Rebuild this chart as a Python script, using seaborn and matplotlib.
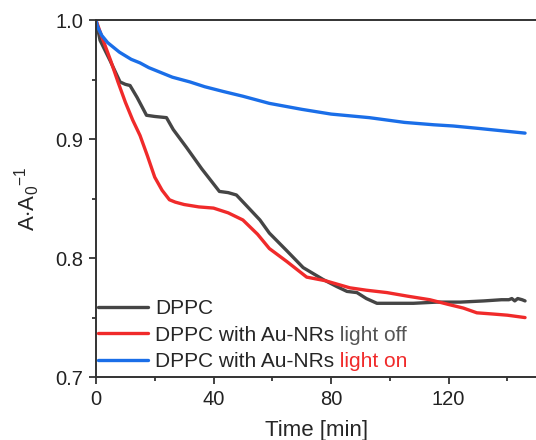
import numpy as np
import pandas as pd
import matplotlib
matplotlib.use("Agg")
import matplotlib.pyplot as plt
import seaborn as sns
from matplotlib.ticker import MultipleLocator, FormatStrFormatter

sns.set_theme(style="ticks")
plt.rcParams["font.family"] = ["Liberation Sans", "DejaVu Sans"]
plt.rcParams["mathtext.fontset"] = "custom"
plt.rcParams["mathtext.rm"] = "Liberation Sans"
plt.rcParams["mathtext.it"] = "Liberation Sans"

# DPPC monolayer, relative area vs. time
t_dppc = [0, 1.4, 3, 4.8, 8.2, 10, 11.6, 14, 17.2, 20, 24, 26.3, 30.8, 36, 42, 45,
          47.8, 52, 55.8, 59, 65, 70.5, 77.3, 82, 85.4, 88.8, 92, 95.6, 100,
          108, 116, 124, 132, 138, 140.5, 141.5, 142.5, 143.5, 145, 146]
a_dppc = [1.0, 0.983, 0.975, 0.966, 0.948, 0.946, 0.945, 0.935, 0.920, 0.919,
          0.918, 0.908, 0.893, 0.875, 0.856, 0.855, 0.853, 0.842, 0.832, 0.821,
          0.806, 0.792, 0.782, 0.776, 0.772, 0.771, 0.766, 0.762, 0.762, 0.762,
          0.763, 0.763, 0.764, 0.765, 0.765, 0.766, 0.764, 0.766, 0.765, 0.764]

# DPPC with Au-NRs, light off
t_off = [0, 2, 5, 7.5, 10, 12.5, 15, 17.5, 20, 22.5, 25, 27, 30, 35, 40, 45, 50,
         55, 59, 65, 71.7, 78, 86.4, 92, 99, 106, 113.6, 120, 125, 129.6, 135, 140, 146]
a_off = [1.0, 0.986, 0.966, 0.948, 0.931, 0.916, 0.903, 0.886, 0.868, 0.857,
         0.849, 0.847, 0.845, 0.843, 0.842, 0.838, 0.832, 0.820, 0.808, 0.797,
         0.784, 0.781, 0.775, 0.773, 0.771, 0.768, 0.765, 0.761, 0.758, 0.754,
         0.753, 0.752, 0.750]

# DPPC with Au-NRs, light on
t_on = [0, 0.5, 1, 2, 3, 4, 5, 6, 8, 10, 12, 15, 18, 21, 26, 32, 37, 43.3, 50,
        59, 70, 80, 93, 105, 115, 121.5, 130, 138, 146]
a_on = [1.0, 0.995, 0.992, 0.987, 0.984, 0.981, 0.979, 0.977, 0.973, 0.970,
        0.967, 0.964, 0.960, 0.957, 0.952, 0.948, 0.944, 0.940, 0.936,
        0.930, 0.925, 0.921, 0.918, 0.914, 0.912, 0.911, 0.909, 0.907, 0.905]

series = ["DPPC", "DPPC with Au-NRs light off", "DPPC with Au-NRs light on"]
colors = ["#454545", "#f02a2a", "#1a6ee8"]

df = pd.concat([
    pd.DataFrame({"t": t_dppc, "a": a_dppc, "s": series[0]}),
    pd.DataFrame({"t": t_off, "a": a_off, "s": series[1]}),
    pd.DataFrame({"t": t_on, "a": a_on, "s": series[2]}),
])

fig = plt.figure(figsize=(5.36, 4.40), dpi=100)
ax = fig.add_axes([0.179, 0.143, 0.8225, 0.8114])

sns.lineplot(data=df, x="t", y="a", hue="s", hue_order=series,
             palette=colors, estimator=None, sort=False, linewidth=2.4,
             legend=False, ax=ax)

ax.set_xlim(0, 150)
ax.set_ylim(0.7, 1.0)
ax.xaxis.set_major_locator(MultipleLocator(40))
ax.xaxis.set_minor_locator(MultipleLocator(20))
ax.yaxis.set_major_locator(MultipleLocator(0.1))
ax.yaxis.set_minor_locator(MultipleLocator(0.05))
ax.yaxis.set_major_formatter(FormatStrFormatter("%.1f"))
ax.tick_params(which="major", direction="out", length=5, width=1.2,
               labelsize=14.5, colors="#222222", pad=4)
ax.tick_params(which="minor", direction="out", length=3, width=1.2, colors="#222222")
for side in ["left", "bottom", "top"]:
    ax.spines[side].set_linewidth(1.4)
    ax.spines[side].set_color("#333333")
ax.spines["right"].set_visible(False)

ax.set_xlabel("Time [min]", fontsize=16, labelpad=8)
ax.set_ylabel(r"A$\cdot$A$_0$$^{-1}$", fontsize=16, labelpad=10)

leg = ax.legend(handles=ax.lines[:3],
                labels=["DPPC", "DPPC with Au-NRs", "DPPC with Au-NRs"],
                loc="lower left", bbox_to_anchor=(0.0, 0.01),
                frameon=False, fontsize=15,
                handlelength=2.4, handletextpad=0.33, labelspacing=0.37,
                borderaxespad=0.0, borderpad=0.1)
texts = leg.get_texts()
fig.canvas.draw()
ax.annotate(" light off", xy=(1, 0), xycoords=texts[1], va="bottom", ha="left",
            fontsize=15, color="#555555")
ax.annotate(" light on", xy=(1, 0), xycoords=texts[2], va="bottom", ha="left",
            fontsize=15, color="#f02a2a")

fig.savefig("out.png", dpi=100)
